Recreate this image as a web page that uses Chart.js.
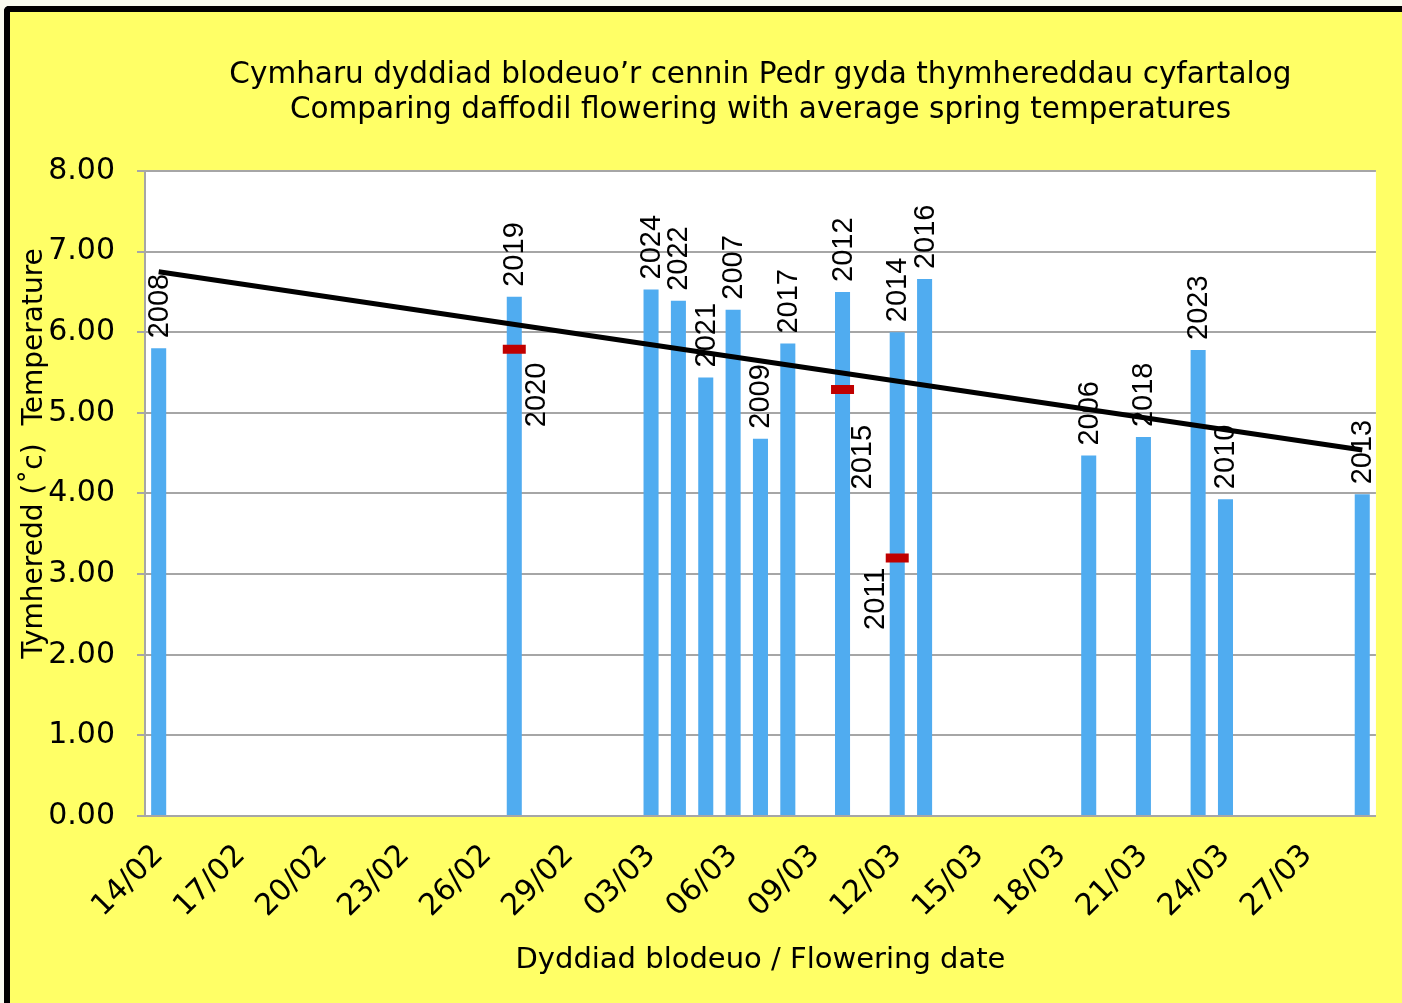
<!DOCTYPE html>
<html>
<head>
<meta charset="utf-8">
<script src="https://cdn.jsdelivr.net/npm/chart.js@4.4.0/dist/chart.umd.min.js"></script>
<style>
  html, body { margin: 0; padding: 0; background: #f9fbef; }
  #frame {
    position: absolute; left: 4px; top: 6px;
    width: 1392px; height: 991px;
    border-top: 6px solid #000; border-left: 6px solid #000;
    border-top-left-radius: 5px;
    background: #ffff66; overflow: hidden;
  }
  #wrap { position: relative; width: 1392px; height: 991px; }
</style>
</head>
<body>
<div id="frame"><div id="wrap"><canvas id="chart"></canvas></div></div>
<script>
// every day on the axis (leap year, so 29/02 is there)
const days = [
  '14/02', '15/02', '16/02', '17/02', '18/02', '19/02', '20/02', '21/02', '22/02', '23/02',
  '24/02', '25/02', '26/02', '27/02', '28/02', '29/02', '01/03', '02/03', '03/03', '04/03',
  '05/03', '06/03', '07/03', '08/03', '09/03', '10/03', '11/03', '12/03', '13/03', '14/03',
  '15/03', '16/03', '17/03', '18/03', '19/03', '20/03', '21/03', '22/03', '23/03', '24/03',
  '25/03', '26/03', '27/03', '28/03', '29/03'
]
const tickDays = ['14/02', '17/02', '20/02', '23/02', '26/02', '29/02', '03/03', '06/03',
  '09/03', '12/03', '15/03', '18/03', '21/03', '24/03', '27/03']

// years with a bar: flowering date and average spring temperature
const barYears = [2008, 2019, 2024, 2022, 2021, 2007, 2009, 2017, 2012, 2014, 2016, 2006, 2018, 2023, 2010, 2013]
const barDates = ['14/02', '27/02', '03/03', '04/03', '05/03', '06/03', '07/03', '08/03',
  '10/03', '12/03', '13/03', '19/03', '21/03', '23/03', '24/03', '29/03']
const barTemps = [5.80, 6.44, 6.53, 6.39, 5.44, 6.28, 4.68, 5.86, 6.50, 6.00, 6.66, 4.47, 4.70, 5.78, 3.93, 3.99]

// years sharing a date with another year, shown as red marks
const markYears = [2020, 2015, 2011]
const markDates = ['27/02', '10/03', '12/03']
const markTemps = [5.79, 5.29, 3.20]

// trend line ends
const trendDates = ['14/02', '29/03']
const trendTemps = [6.75, 4.54]

const FONT = "'DejaVu Sans', sans-serif"
const LABEL_FONT = "'Liberation Sans', Arial, sans-serif"

const plotBackground = {
  id: 'plotBackground',
  beforeDraw(chart) {
    const { ctx, chartArea: a } = chart
    ctx.save()
    ctx.fillStyle = '#ffffff'
    ctx.fillRect(a.left, a.top, a.right - a.left, a.bottom - a.top)
    ctx.restore()
  }
}

function drawUp(ctx, text, x, y) {
  ctx.save()
  ctx.translate(x, y)
  ctx.rotate(-Math.PI / 2)
  ctx.fillText(text, 0, 0)
  ctx.restore()
}

const yearLabels = {
  id: 'yearLabels',
  afterDatasetsDraw(chart, args, opts) {
    const { ctx, scales: { x, y } } = chart
    ctx.save()
    ctx.font = '29px ' + LABEL_FONT
    ctx.fillStyle = '#000'
    ctx.textAlign = 'left'
    ctx.textBaseline = 'middle'
    barYears.forEach((yr, i) => {
      const px = x.getPixelForValue(days.indexOf(barDates[i]))
      const py = y.getPixelForValue(barTemps[i])
      drawUp(ctx, String(yr), px + 1, py - 10)
    })
    markYears.forEach((yr, i) => {
      const px = x.getPixelForValue(days.indexOf(markDates[i]))
      const py = y.getPixelForValue(markTemps[i])
      const off = opts.offsets[yr]
      drawUp(ctx, String(yr), px + off[0], py + off[1])
    })
    ctx.restore()
  }
}

const yTitle = {
  id: 'yTitle',
  afterDraw(chart) {
    const { ctx, chartArea: a } = chart
    ctx.save()
    ctx.font = '28px ' + FONT
    ctx.fillStyle = '#000'
    ctx.textAlign = 'center'
    ctx.textBaseline = 'middle'
    ctx.translate(25, (a.top + a.bottom) / 2 - 40)
    ctx.rotate(-Math.PI / 2)
    ctx.fillText('Tymheredd (\u02DAc)  Temperature', 0, 0)
    ctx.restore()
  }
}

new Chart(document.getElementById('chart'), {
  type: 'bar',
  data: {
    labels: days,
    datasets: [
      {
        type: 'line',
        data: markDates.map((d, i) => ({ x: d, y: markTemps[i] })),
        showLine: false,
        pointStyle: 'line',
        pointRadius: 11.5,
        pointHoverRadius: 11.5,
        pointBorderWidth: 9,
        pointHoverBorderWidth: 9,
        borderColor: '#c00000',
        order: 1
      },
      {
        type: 'line',
        data: trendDates.map((d, i) => ({ x: d, y: trendTemps[i] })),
        borderColor: '#000',
        borderWidth: 5,
        pointRadius: 0,
        order: 2
      },
      {
        data: barDates.map((d, i) => ({ x: d, y: barTemps[i] })),
        backgroundColor: '#50acf0',
        barPercentage: 0.55,
        categoryPercentage: 1,
        grouped: false,
        order: 3
      }
    ]
  },
  options: {
    responsive: true,
    maintainAspectRatio: false,
    animation: false,
    layout: { padding: { left: 0, right: 25, top: 0, bottom: 0 } },
    plugins: {
      legend: { display: false },
      tooltip: { enabled: false },
      title: {
        display: true,
        fullSize: false,
        text: [
          'Cymharu dyddiad blodeuo\u2019r cennin Pedr gyda thymhereddau cyfartalog',
          'Comparing daffodil flowering with average spring temperatures'
        ],
        color: '#000',
        font: { family: FONT, size: 29.5, weight: 'normal', lineHeight: 1.186 },
        padding: { top: 45.5, bottom: 43.5 }
      },
      yearLabels: { offsets: { 2020: [23, 78], 2015: [20, 100], 2011: [-21, 72] } }
    },
    scales: {
      x: {
        offset: true,
        grid: { display: false },
        border: { display: true, color: '#a6a6a6', width: 2 },
        ticks: {
          autoSkip: false,
          minRotation: 45,
          maxRotation: 45,
          padding: 14,
          color: '#000',
          font: { family: FONT, size: 30 },
          callback: function (v) {
            const lab = this.getLabelForValue(v)
            return tickDays.includes(lab) ? lab : ''
          }
        },
        title: {
          display: true,
          text: 'Dyddiad blodeuo / Flowering date',
          color: '#000',
          font: { family: FONT, size: 29 },
          padding: { top: 0, bottom: 25 }
        },
        afterFit(s) { s.height = 187 }
      },
      y: {
        min: 0,
        max: 8,
        grid: { color: '#a6a6a6', lineWidth: 2, tickLength: 8, tickColor: '#a6a6a6' },
        border: { display: true, color: '#a6a6a6', width: 2 },
        ticks: {
          stepSize: 1,
          padding: 22,
          color: '#000',
          font: { family: FONT, size: 30 },
          callback: v => v.toFixed(2)
        },
        afterFit(s) { s.width = 135 }
      }
    }
  },
  plugins: [plotBackground, yearLabels, yTitle]
})
</script>
</body>
</html>
